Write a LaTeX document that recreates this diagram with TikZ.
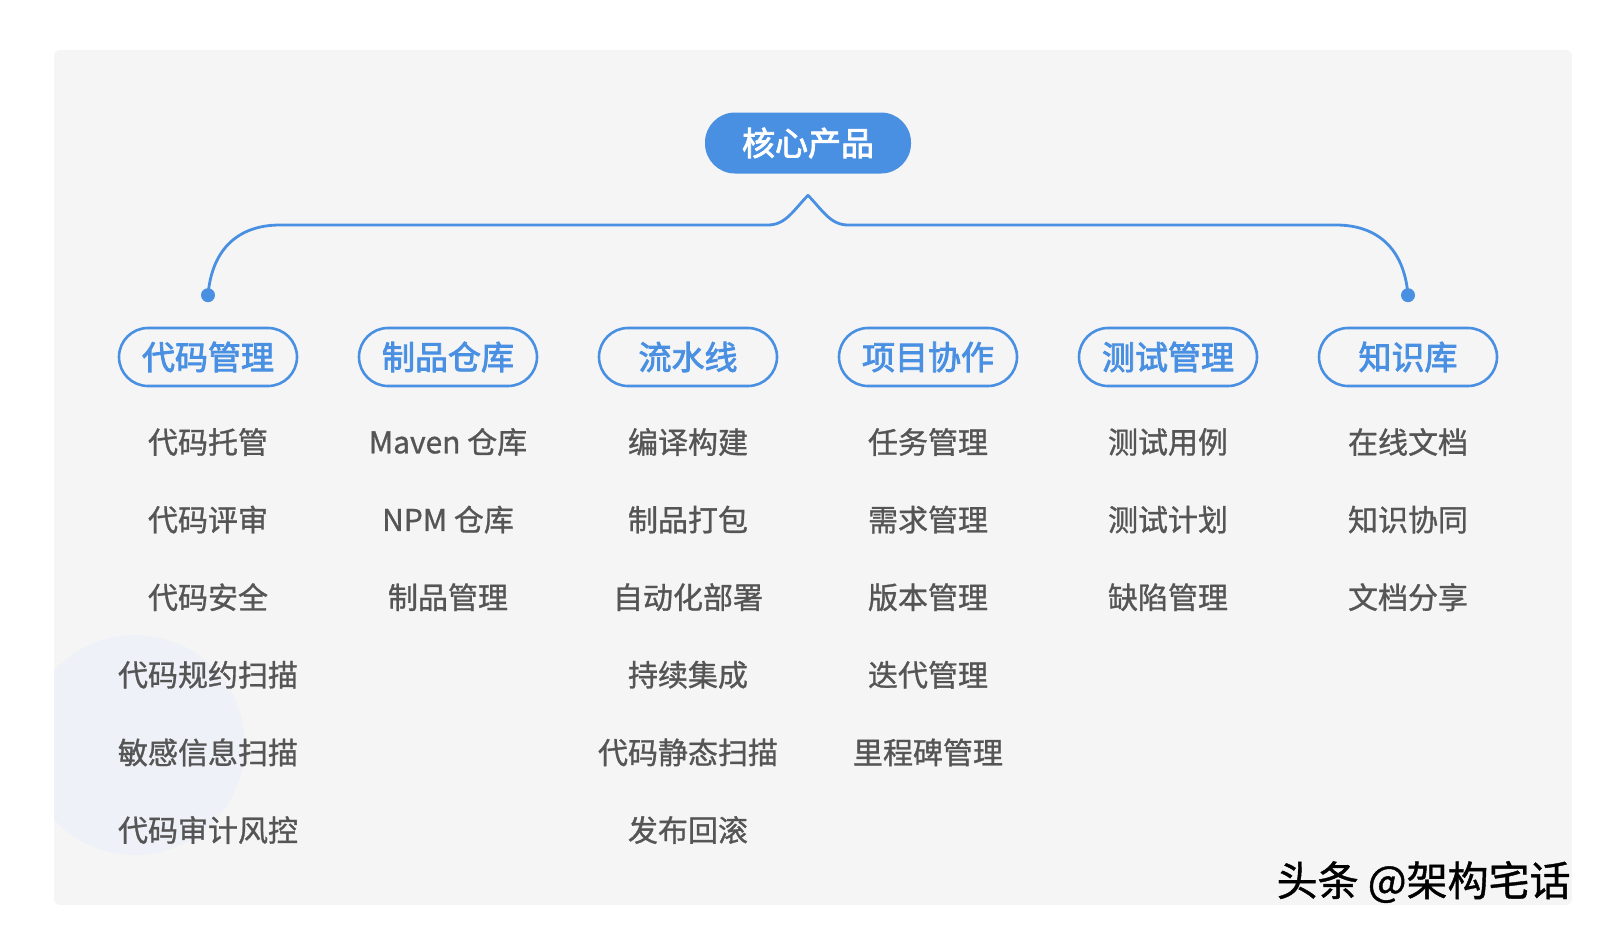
\documentclass[tikz,border=0pt]{standalone}
\usepackage{fontspec}
\setmainfont{Noto Sans CJK SC}
\newfontfamily\itemfont{Noto Sans CJK SC}[FakeBold=1]
\newfontfamily\headfont{Noto Sans CJK SC}[FakeBold=2.5]
\usetikzlibrary{positioning}
\definecolor{brandblue}{HTML}{4A90E2}
\definecolor{itemgray}{HTML}{555555}
\definecolor{panelgray}{HTML}{F5F5F5}
\definecolor{decoblue}{HTML}{EEF1F7}
\tikzset{
  rootbox/.style={fill=brandblue, text=white, rounded corners=15pt, minimum width=103pt, minimum height=30.5pt, font=\fontsize{16.5}{18}\selectfont\headfont},
  catbox/.style={draw=brandblue, line width=1.3pt, text=brandblue, rounded corners=14.5pt, minimum width=89pt, minimum height=29pt, font=\fontsize{16.5}{18}\selectfont\headfont},
  itemtext/.style={text=itemgray, font=\fontsize{15}{18}\selectfont\itemfont},
  bracket/.style={draw=brandblue, line width=1.4pt, line cap=round, line join=round}
}
\begin{document}
\begin{tikzpicture}[x=0.5pt, y=-0.5pt]
			\useasboundingbox (0,0) rectangle (1600,932);
			
			% panel and faint decoration
			\fill[panelgray, rounded corners=3pt] (54,50) rectangle (1572,905);
			\begin{scope}
			\clip (54,50) rectangle (1572,905);
			\fill[decoblue] (135,745) circle (55pt);
			\end{scope}
			
			\node[rootbox] (root) at (808,143) {核心产品};
			
			\foreach \i/\cat/\list in {
				1/代码管理/{代码托管,代码评审,代码安全,代码规约扫描,敏感信息扫描,代码审计风控},
				2/制品仓库/{Maven 仓库,NPM 仓库,制品管理},
				3/流水线/{编译构建,制品打包,自动化部署,持续集成,代码静态扫描,发布回滚},
				4/项目协作/{任务管理,需求管理,版本管理,迭代管理,里程碑管理},
				5/测试管理/{测试用例,测试计划,缺陷管理},
				6/知识库/{在线文档,知识协同,文档分享}}
			{
				\node[catbox] (cat\i) at ({208+240*(\i-1)},357) {\cat};
				\foreach \item [count=\k] in \list
				\node[itemtext] (item\i-\k) at ({208+240*(\i-1)},{442+77.6*(\k-1)}) {\item};
			}
			
			\path
			([yshift=15.75pt]cat1.north) coordinate (dotL)
			([yshift=15.75pt]cat6.north) coordinate (dotR)
			([yshift=-10.75pt]root.south) coordinate (peak)
			(280,225) coordinate (barL)
			(768,225) coordinate (peakL)
			(848,225) coordinate (peakR)
			(1336,225) coordinate (barR);
			
			\draw[bracket] (dotL) .. controls +(4,-48) and +(-40,0) .. (barL)
			-- (peakL) .. controls +(18,0) and +(-14,14) .. (peak)
			.. controls +(14,14) and +(-18,0) .. (peakR)
			-- (barR) .. controls +(40,0) and +(-4,-48) .. (dotR);
			
			\foreach \point in {dotL, dotR}
			\fill[brandblue] (\point) circle (3.5pt);
			
			\node[font=\fontsize{20.5}{22}\selectfont\itemfont, inner sep=0pt, anchor=east] (mark) at (1571,882) {头条 @架构宅话};
		\end{tikzpicture}
\end{document}
